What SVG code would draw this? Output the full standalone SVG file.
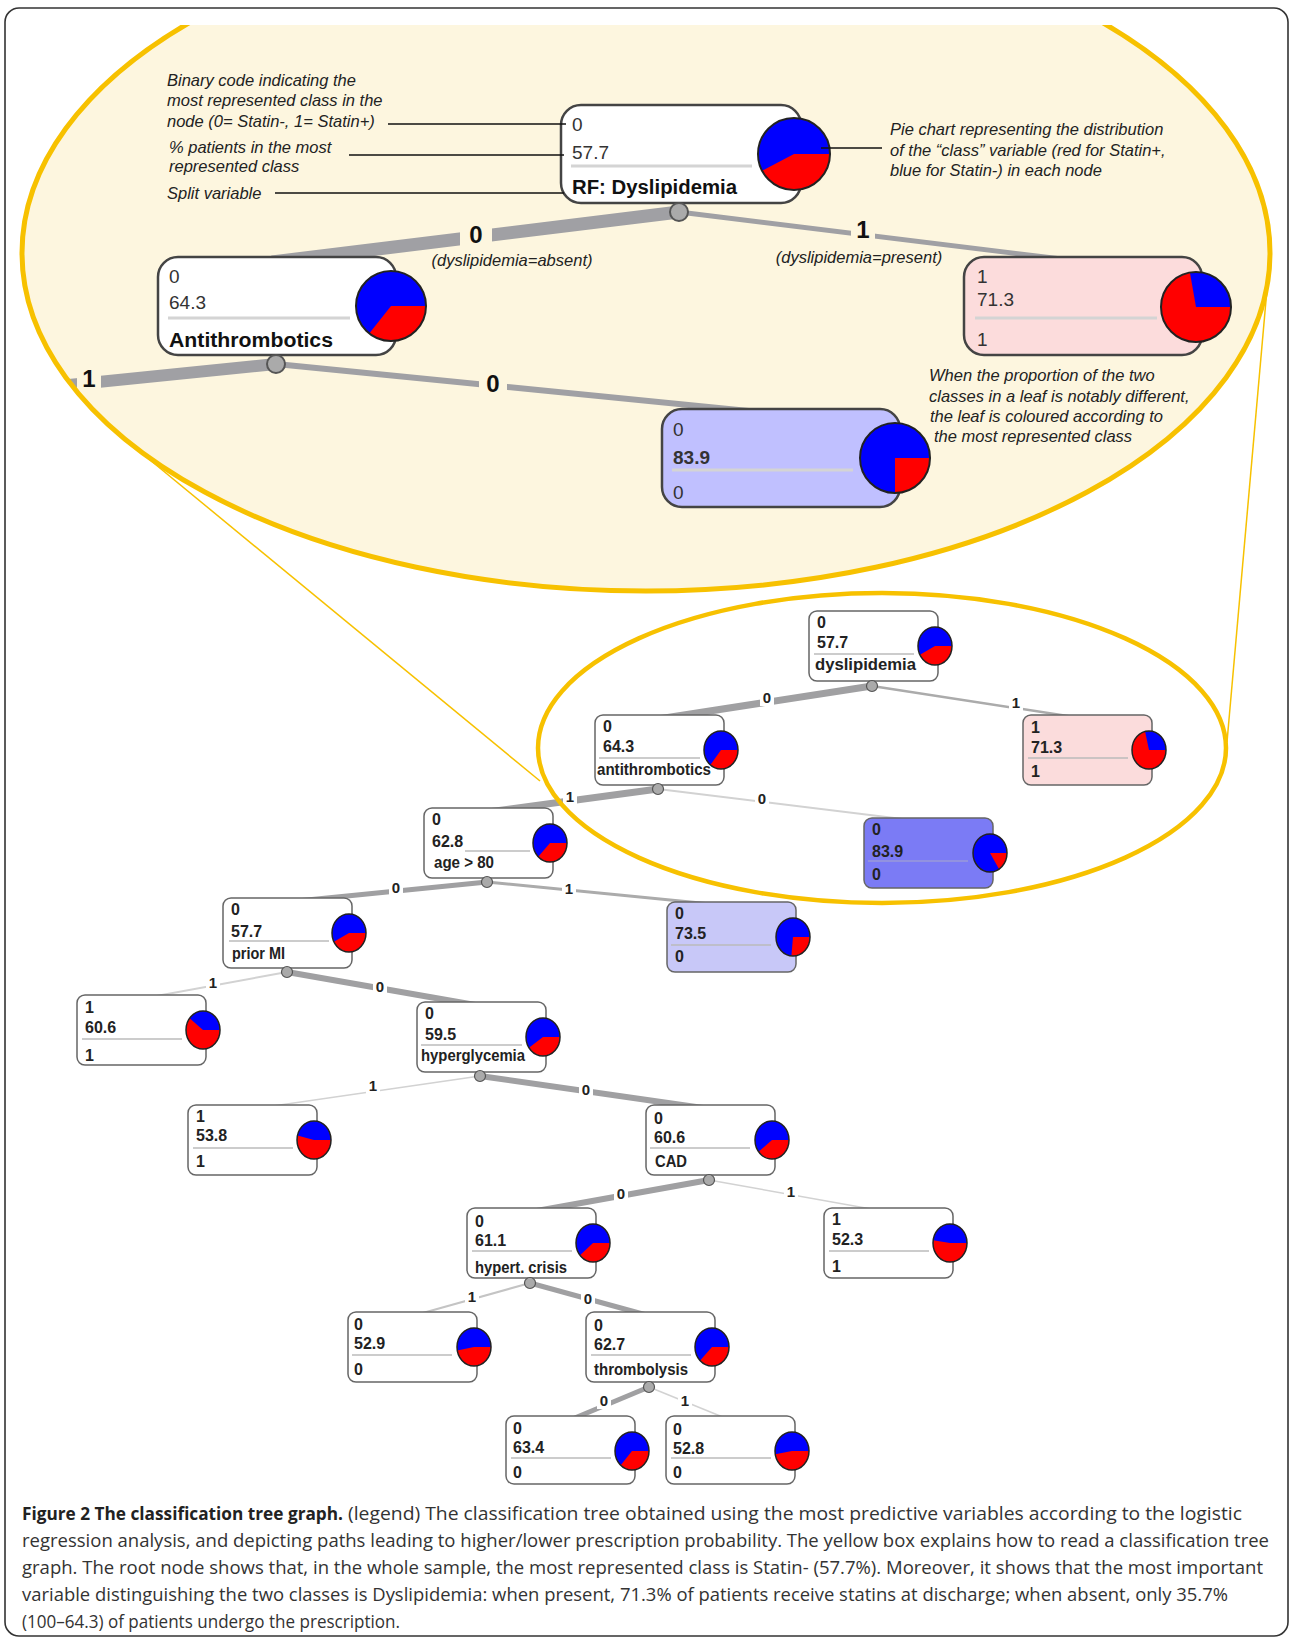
<svg xmlns="http://www.w3.org/2000/svg" width="1292" height="1638" viewBox="0 0 1292 1638">
<defs>
<style>
.frame{fill:#fff;stroke:#333;stroke-width:1.6}
.cnode{stroke:#444;stroke-width:2.5}
.cnum{font-family:"Liberation Sans",Arial,sans-serif;font-size:19px;fill:#333}
.cname{font-family:"Liberation Sans",Arial,sans-serif;font-size:20px;font-weight:bold;fill:#111}
.csep{stroke:#d4d4d4;stroke-width:3}
.ann{font-family:"Liberation Sans",Arial,sans-serif;font-size:16.5px;font-style:italic;fill:#222}
.lead{stroke:#111;stroke-width:1.6}
.cedge{stroke:#a0a0a4;fill:none}
.clab{font-family:"Liberation Sans",Arial,sans-serif;font-size:24px;font-weight:bold;fill:#111;text-anchor:middle}
.red{fill:#f00}
.blue{fill:#00f}
.pieo{fill:none;stroke:#222;stroke-width:1.5}
.cpieo{fill:none;stroke:#222;stroke-width:2}
.node{stroke:#666;stroke-width:1.5}
.t{font-family:"Liberation Sans",Arial,sans-serif;font-size:16px;font-weight:bold;fill:#222}
.sep{stroke:#bbb;stroke-width:1.5}
.dot{fill:#aaa;stroke:#555;stroke-width:1.2}
.cdot{fill:#aaa;stroke:#555;stroke-width:2}
.elab{font-family:"Liberation Sans",Arial,sans-serif;font-size:15px;font-weight:bold;fill:#222;text-anchor:middle}
.cap{font-family:"Open Sans","Liberation Sans",sans-serif;font-size:18.5px;fill:#333}
.capb{font-weight:bold;fill:#222}
.yel{fill:none;stroke:#f7c100}
.thick{stroke:#a0a0a2}
.mid{stroke:#ababab}
.light{stroke:#d2d2d2}
</style>
<clipPath id="topclip"><rect x="0" y="25" width="1292" height="700"/></clipPath>
<clipPath id="ellclip"><ellipse cx="646" cy="253" rx="622" ry="336"/></clipPath>
</defs>

<rect class="frame" x="5" y="8" width="1283" height="1628" rx="14"/>

<!-- ===== Callout (zoomed explanation) ===== -->
<g id="callout">
  <g clip-path="url(#topclip)"><ellipse cx="646" cy="253" rx="624" ry="338" fill="#fdf6df"/></g>
  <g id="callout-connectors" clip-path="url(#topclip)">
    <g clip-path="url(#ellclip)">
      <line class="cedge" x1="679" y1="212" x2="272" y2="262" stroke-width="13"/>
      <line class="cedge" x1="679" y1="212" x2="1086" y2="262" stroke-width="5"/>
      <line class="cedge" x1="276" y1="364" x2="0" y2="392" stroke-width="12"/>
      <line class="cedge" x1="276" y1="364" x2="780" y2="414" stroke-width="6"/>
      <rect x="460" y="218" width="32" height="30" fill="#fdf6df"/>
      <text class="clab" x="476" y="243">0</text>
      <rect x="851" y="213" width="24" height="30" fill="#fdf6df"/>
      <text class="clab" x="863" y="238">1</text>
      <rect x="77" y="361" width="24" height="30" fill="#fdf6df"/>
      <text class="clab" x="89" y="387">1</text>
      <rect x="479" y="367" width="28" height="30" fill="#fdf6df"/>
      <text class="clab" x="493" y="392">0</text>
    </g>
  </g>
  <text class="ann" x="512" y="266" text-anchor="middle">(dyslipidemia=absent)</text>
  <text class="ann" x="859" y="263" text-anchor="middle">(dyslipidemia=present)</text>

  <g id="c-root">
    <rect class="cnode" x="561" y="105" width="240" height="98" rx="20" fill="#fff"/>
    <text class="cnum" x="572" y="131">0</text>
    <text class="cnum" x="572" y="159">57.7</text>
    <line class="csep" x1="571" y1="166" x2="752" y2="166"/>
    <text class="cname" x="572" y="194" textLength="165" lengthAdjust="spacingAndGlyphs">RF: Dyslipidemia</text>
    <circle class="red" cx="794" cy="154" r="36"/>
    <path class="blue" d="M794,154 L830,154 A36,36 0 1 0 762.13,170.73 Z"/>
    <circle class="cpieo" cx="794" cy="154" r="36"/>
  </g>
  <g id="c-anti">
    <rect class="cnode" x="158" y="257" width="238" height="98" rx="20" fill="#fff"/>
    <text class="cnum" x="169" y="283">0</text>
    <text class="cnum" x="169" y="309">64.3</text>
    <line class="csep" x1="168" y1="318" x2="350" y2="318"/>
    <text class="cname" x="169" y="347" textLength="164" lengthAdjust="spacingAndGlyphs">Antithrombotics</text>
    <circle class="red" cx="391" cy="306" r="35"/>
    <path class="blue" d="M391,306 L426,306 A35,35 0 1 0 369.21,333.39 Z"/>
    <circle class="cpieo" cx="391" cy="306" r="35"/>
  </g>
  <g id="c-pink">
    <rect class="cnode" x="964" y="257" width="238" height="98" rx="20" fill="#fcdcdc"/>
    <text class="cnum" x="977" y="283">1</text>
    <text class="cnum" x="977" y="306">71.3</text>
    <line class="csep" x1="975" y1="318" x2="1157" y2="318"/>
    <text class="cnum" x="977" y="346">1</text>
    <circle class="red" cx="1196" cy="307" r="35"/>
    <path class="blue" d="M1196,307 L1231,307 A35,35 0 0 0 1189.92,272.53 Z"/>
    <circle class="cpieo" cx="1196" cy="307" r="35"/>
  </g>
  <g id="c-839">
    <rect class="cnode" x="662" y="409" width="238" height="98" rx="20" fill="#c0c0ff"/>
    <text class="cnum" x="673" y="436">0</text>
    <text class="cnum" x="673" y="464" font-weight="bold" font-size="22" fill="#111">83.9</text>
    <line class="csep" x1="672" y1="470" x2="853" y2="470"/>
    <text class="cnum" x="673" y="499">0</text>
    <circle class="red" cx="895" cy="458" r="35"/>
    <path class="blue" d="M895,458 L930,458 A35,35 0 1 0 895,493 Z"/>
    <circle class="cpieo" cx="895" cy="458" r="35"/>
  </g>
  <circle class="cdot" cx="679" cy="212" r="9"/>
  <circle class="cdot" cx="276" cy="364" r="9"/>

  <g id="annotations">
    <text class="ann" x="167" y="86">Binary code indicating the</text>
    <text class="ann" x="167" y="106">most represented class in the</text>
    <text class="ann" x="167" y="127">node (0= Statin-, 1= Statin+)</text>
    <text class="ann" x="169" y="153">% patients in the most</text>
    <text class="ann" x="169" y="172">represented class</text>
    <text class="ann" x="167" y="199">Split variable</text>
    <line class="lead" x1="388" y1="124" x2="566" y2="124"/>
    <line class="lead" x1="349" y1="155" x2="564" y2="155"/>
    <line class="lead" x1="275" y1="193" x2="564" y2="193"/>
    <line class="lead" x1="821" y1="148" x2="882" y2="148"/>
    <text class="ann" x="890" y="135">Pie chart representing the distribution</text>
    <text class="ann" x="890" y="156">of the “class” variable (red for Statin+,</text>
    <text class="ann" x="890" y="176">blue for Statin-) in each node</text>
    <text class="ann" x="929" y="381">When the proportion of the two</text>
    <text class="ann" x="929" y="402">classes in a leaf is notably different,</text>
    <text class="ann" x="930" y="422">the leaf is coloured according to</text>
    <text class="ann" x="934" y="442">the most represented class</text>
  </g>
  <g clip-path="url(#topclip)"><ellipse class="yel" cx="646" cy="253" rx="624" ry="338" stroke-width="5"/></g>
</g>

<!-- ===== Tree ===== -->
<g id="connectors">
  <line class="thick" x1="872" y1="686" x2="658" y2="719" stroke-width="7"/>
  <line class="mid" x1="872" y1="686" x2="1087" y2="719" stroke-width="2.5"/>
  <line class="thick" x1="658" y1="789" x2="488" y2="812" stroke-width="7"/>
  <line class="light" x1="658" y1="789" x2="927" y2="822" stroke-width="2"/>
  <line class="thick" x1="487" y1="882" x2="287" y2="902" stroke-width="5"/>
  <line class="mid" x1="487" y1="882" x2="731" y2="906" stroke-width="3"/>
  <line class="light" x1="287" y1="972" x2="140" y2="999" stroke-width="2"/>
  <line class="thick" x1="287" y1="972" x2="481" y2="1006" stroke-width="6"/>
  <line class="light" x1="480" y1="1076" x2="252" y2="1109" stroke-width="1.5"/>
  <line class="thick" x1="480" y1="1076" x2="710" y2="1109" stroke-width="6"/>
  <line class="thick" x1="709" y1="1180" x2="531" y2="1212" stroke-width="6"/>
  <line class="light" x1="709" y1="1180" x2="888" y2="1212" stroke-width="1.5"/>
  <line class="mid" x1="530" y1="1283" x2="412" y2="1316" stroke-width="2" style="stroke:#c4c4c4"/>
  <line class="thick" x1="530" y1="1283" x2="650" y2="1316" stroke-width="5"/>
  <line class="thick" x1="649" y1="1387" x2="570" y2="1420" stroke-width="5"/>
  <line class="light" x1="649" y1="1387" x2="730" y2="1420" stroke-width="1.5"/>
  <g id="edge-labels">
    <rect x="760" y="689" width="14" height="17" fill="#fff"/><text class="elab" x="767" y="703">0</text>
    <rect x="1009" y="694" width="14" height="17" fill="#fff"/><text class="elab" x="1016" y="708">1</text>
    <rect x="563" y="788" width="14" height="17" fill="#fff"/><text class="elab" x="570" y="802">1</text>
    <rect x="755" y="790" width="14" height="17" fill="#fff"/><text class="elab" x="762" y="804">0</text>
    <rect x="389" y="879" width="14" height="17" fill="#fff"/><text class="elab" x="396" y="893">0</text>
    <rect x="562" y="880" width="14" height="17" fill="#fff"/><text class="elab" x="569" y="894">1</text>
    <rect x="206" y="974" width="14" height="17" fill="#fff"/><text class="elab" x="213" y="988">1</text>
    <rect x="373" y="978" width="14" height="17" fill="#fff"/><text class="elab" x="380" y="992">0</text>
    <rect x="366" y="1077" width="14" height="17" fill="#fff"/><text class="elab" x="373" y="1091">1</text>
    <rect x="579" y="1081" width="14" height="17" fill="#fff"/><text class="elab" x="586" y="1095">0</text>
    <rect x="614" y="1185" width="14" height="17" fill="#fff"/><text class="elab" x="621" y="1199">0</text>
    <rect x="784" y="1183" width="14" height="17" fill="#fff"/><text class="elab" x="791" y="1197">1</text>
    <rect x="465" y="1288" width="14" height="17" fill="#fff"/><text class="elab" x="472" y="1302">1</text>
    <rect x="581" y="1290" width="14" height="17" fill="#fff"/><text class="elab" x="588" y="1304">0</text>
    <rect x="597" y="1392" width="14" height="17" fill="#fff"/><text class="elab" x="604" y="1406">0</text>
    <rect x="678" y="1392" width="14" height="17" fill="#fff"/><text class="elab" x="685" y="1406">1</text>
  </g>
</g>

<g id="n-dys">
  <rect class="node" x="809" y="611" width="129" height="70" rx="8" fill="#fff"/>
  <text class="t" x="817" y="628">0</text><text class="t" x="817" y="648">57.7</text>
  <line class="sep" x1="814" y1="654" x2="914" y2="654"/>
  <text class="t" x="815" y="670" textLength="101" lengthAdjust="spacingAndGlyphs">dyslipidemia</text>
  <ellipse class="red" cx="935" cy="646" rx="17" ry="19"/>
  <path class="blue" d="M935,646 L952,646 A17,19 0 1 0 919.95,654.83 Z"/>
  <ellipse class="pieo" cx="935" cy="646" rx="17" ry="19"/>
</g>
<g id="n-anti">
  <rect class="node" x="595" y="715" width="129" height="70" rx="8" fill="#fff"/>
  <text class="t" x="603" y="732">0</text><text class="t" x="603" y="752">64.3</text>
  <line class="sep" x1="599" y1="758" x2="700" y2="758"/>
  <text class="t" x="597" y="775" textLength="114" lengthAdjust="spacingAndGlyphs">antithrombotics</text>
  <ellipse class="red" cx="721" cy="750" rx="17" ry="19"/>
  <path class="blue" d="M721,750 L738,750 A17,19 0 1 0 710.42,764.87 Z"/>
  <ellipse class="pieo" cx="721" cy="750" rx="17" ry="19"/>
</g>
<g id="n-713">
  <rect class="node" x="1023" y="715" width="129" height="70" rx="8" fill="#fbdcdc"/>
  <text class="t" x="1031" y="733">1</text><text class="t" x="1031" y="753">71.3</text>
  <line class="sep" x1="1028" y1="758" x2="1128" y2="758"/>
  <text class="t" x="1031" y="777">1</text>
  <ellipse class="red" cx="1149" cy="750" rx="17" ry="19"/>
  <path class="blue" d="M1149,750 L1166,750 A17,19 0 0 0 1145.09,731.51 Z"/>
  <ellipse class="pieo" cx="1149" cy="750" rx="17" ry="19"/>
</g>
<g id="n-839">
  <rect class="node" x="864" y="818" width="129" height="70" rx="8" fill="#7b7bf5"/>
  <text class="t" x="872" y="835">0</text><text class="t" x="872" y="857">83.9</text>
  <line class="sep" x1="868" y1="861" x2="968" y2="861" style="stroke:#9a9ad8"/>
  <text class="t" x="872" y="880">0</text>
  <ellipse class="red" cx="990" cy="853" rx="17" ry="19"/>
  <path class="blue" d="M990,853 L1007,853 A17,19 0 1 0 999.01,869.11 Z"/>
  <ellipse class="pieo" cx="990" cy="853" rx="17" ry="19"/>
</g>
<g id="n-age">
  <rect class="node" x="424" y="808" width="129" height="70" rx="8" fill="#fff"/>
  <text class="t" x="432" y="825">0</text><text class="t" x="432" y="847">62.8</text>
  <line class="sep" x1="465" y1="851" x2="530" y2="851"/>
  <text class="t" x="434" y="868" textLength="60" lengthAdjust="spacingAndGlyphs">age &gt; 80</text>
  <ellipse class="red" cx="550" cy="843" rx="17" ry="19"/>
  <path class="blue" d="M550,843 L567,843 A17,19 0 1 0 538.21,856.69 Z"/>
  <ellipse class="pieo" cx="550" cy="843" rx="17" ry="19"/>
</g>
<g id="n-prior">
  <rect class="node" x="223" y="898" width="129" height="70" rx="8" fill="#fff"/>
  <text class="t" x="231" y="915">0</text><text class="t" x="231" y="937">57.7</text>
  <line class="sep" x1="229" y1="941" x2="329" y2="941"/>
  <text class="t" x="232" y="959" textLength="53" lengthAdjust="spacingAndGlyphs">prior MI</text>
  <ellipse class="red" cx="349" cy="933" rx="17" ry="19"/>
  <path class="blue" d="M349,933 L366,933 A17,19 0 1 0 333.95,941.83 Z"/>
  <ellipse class="pieo" cx="349" cy="933" rx="17" ry="19"/>
</g>
<g id="n-735">
  <rect class="node" x="667" y="902" width="129" height="70" rx="8" fill="#c8c8f8"/>
  <text class="t" x="675" y="919">0</text><text class="t" x="675" y="939">73.5</text>
  <line class="sep" x1="671" y1="945" x2="771" y2="945"/>
  <text class="t" x="675" y="962">0</text>
  <ellipse class="red" cx="793" cy="937" rx="17" ry="19"/>
  <path class="blue" d="M793,937 L810,937 A17,19 0 1 0 791.4,955.92 Z"/>
  <ellipse class="pieo" cx="793" cy="937" rx="17" ry="19"/>
</g>
<g id="n-606">
  <rect class="node" x="77" y="995" width="129" height="70" rx="8" fill="#fff"/>
  <text class="t" x="85" y="1013">1</text><text class="t" x="85" y="1033">60.6</text>
  <line class="sep" x1="82" y1="1039" x2="182" y2="1039"/>
  <text class="t" x="85" y="1061">1</text>
  <ellipse class="red" cx="203" cy="1030" rx="17" ry="19"/>
  <path class="blue" d="M203,1030 L220,1030 A17,19 0 0 0 189.64,1018.25 Z"/>
  <ellipse class="pieo" cx="203" cy="1030" rx="17" ry="19"/>
</g>
<g id="n-hyper">
  <rect class="node" x="417" y="1002" width="129" height="70" rx="8" fill="#fff"/>
  <text class="t" x="425" y="1019">0</text><text class="t" x="425" y="1040">59.5</text>
  <line class="sep" x1="421" y1="1045" x2="522" y2="1045"/>
  <text class="t" x="421" y="1061" textLength="104" lengthAdjust="spacingAndGlyphs">hyperglycemia</text>
  <ellipse class="red" cx="543" cy="1037" rx="17" ry="19"/>
  <path class="blue" d="M543,1037 L560,1037 A17,19 0 1 0 528.94,1047.68 Z"/>
  <ellipse class="pieo" cx="543" cy="1037" rx="17" ry="19"/>
</g>
<g id="n-538">
  <rect class="node" x="188" y="1105" width="129" height="70" rx="8" fill="#fff"/>
  <text class="t" x="196" y="1122">1</text><text class="t" x="196" y="1141">53.8</text>
  <line class="sep" x1="193" y1="1148" x2="293" y2="1148"/>
  <text class="t" x="196" y="1167">1</text>
  <ellipse class="red" cx="314" cy="1140" rx="17" ry="19"/>
  <path class="blue" d="M314,1140 L331,1140 A17,19 0 0 0 297.48,1135.5 Z"/>
  <ellipse class="pieo" cx="314" cy="1140" rx="17" ry="19"/>
</g>
<g id="n-cad">
  <rect class="node" x="646" y="1105" width="129" height="70" rx="8" fill="#fff"/>
  <text class="t" x="654" y="1124">0</text><text class="t" x="654" y="1143">60.6</text>
  <line class="sep" x1="650" y1="1148" x2="750" y2="1148"/>
  <text class="t" x="655" y="1167" textLength="32" lengthAdjust="spacingAndGlyphs">CAD</text>
  <ellipse class="red" cx="772" cy="1140" rx="17" ry="19"/>
  <path class="blue" d="M772,1140 L789,1140 A17,19 0 1 0 758.65,1151.75 Z"/>
  <ellipse class="pieo" cx="772" cy="1140" rx="17" ry="19"/>
</g>
<g id="n-hypert">
  <rect class="node" x="467" y="1208" width="129" height="70" rx="8" fill="#fff"/>
  <text class="t" x="475" y="1227">0</text><text class="t" x="475" y="1246">61.1</text>
  <line class="sep" x1="472" y1="1251" x2="572" y2="1251"/>
  <text class="t" x="475" y="1273" textLength="92" lengthAdjust="spacingAndGlyphs">hypert. crisis</text>
  <ellipse class="red" cx="593" cy="1243" rx="17" ry="19"/>
  <path class="blue" d="M593,1243 L610,1243 A17,19 0 1 0 579.98,1255.21 Z"/>
  <ellipse class="pieo" cx="593" cy="1243" rx="17" ry="19"/>
</g>
<g id="n-523">
  <rect class="node" x="824" y="1208" width="129" height="70" rx="8" fill="#fff"/>
  <text class="t" x="832" y="1225">1</text><text class="t" x="832" y="1245">52.3</text>
  <line class="sep" x1="829" y1="1251" x2="929" y2="1251"/>
  <text class="t" x="832" y="1272">1</text>
  <ellipse class="red" cx="950" cy="1243" rx="17" ry="19"/>
  <path class="blue" d="M950,1243 L967,1243 A17,19 0 0 0 933.18,1240.26 Z"/>
  <ellipse class="pieo" cx="950" cy="1243" rx="17" ry="19"/>
</g>
<g id="n-529">
  <rect class="node" x="348" y="1312" width="129" height="70" rx="8" fill="#fff"/>
  <text class="t" x="354" y="1330">0</text><text class="t" x="354" y="1349">52.9</text>
  <line class="sep" x1="352" y1="1355" x2="452" y2="1355"/>
  <text class="t" x="354" y="1375">0</text>
  <ellipse class="red" cx="474" cy="1347" rx="17" ry="19"/>
  <path class="blue" d="M474,1347 L491,1347 A17,19 0 1 0 457.28,1350.43 Z"/>
  <ellipse class="pieo" cx="474" cy="1347" rx="17" ry="19"/>
</g>
<g id="n-thromb">
  <rect class="node" x="586" y="1312" width="129" height="70" rx="8" fill="#fff"/>
  <text class="t" x="594" y="1331">0</text><text class="t" x="594" y="1350">62.7</text>
  <line class="sep" x1="591" y1="1355" x2="691" y2="1355"/>
  <text class="t" x="594" y="1375" textLength="94" lengthAdjust="spacingAndGlyphs">thrombolysis</text>
  <ellipse class="red" cx="712" cy="1347" rx="17" ry="19"/>
  <path class="blue" d="M712,1347 L729,1347 A17,19 0 1 0 700.13,1360.6 Z"/>
  <ellipse class="pieo" cx="712" cy="1347" rx="17" ry="19"/>
</g>
<g id="n-634">
  <rect class="node" x="506" y="1416" width="129" height="68" rx="8" fill="#fff"/>
  <text class="t" x="513" y="1434">0</text><text class="t" x="513" y="1453">63.4</text>
  <line class="sep" x1="511" y1="1458" x2="611" y2="1458"/>
  <text class="t" x="513" y="1478">0</text>
  <ellipse class="red" cx="632" cy="1451" rx="17" ry="19"/>
  <path class="blue" d="M632,1451 L649,1451 A17,19 0 1 0 620.67,1465.16 Z"/>
  <ellipse class="pieo" cx="632" cy="1451" rx="17" ry="19"/>
</g>
<g id="n-528">
  <rect class="node" x="666" y="1416" width="129" height="68" rx="8" fill="#fff"/>
  <text class="t" x="673" y="1435">0</text><text class="t" x="673" y="1454">52.8</text>
  <line class="sep" x1="671" y1="1458" x2="771" y2="1458"/>
  <text class="t" x="673" y="1478">0</text>
  <ellipse class="red" cx="792" cy="1451" rx="17" ry="19"/>
  <path class="blue" d="M792,1451 L809,1451 A17,19 0 1 0 775.26,1454.33 Z"/>
  <ellipse class="pieo" cx="792" cy="1451" rx="17" ry="19"/>
</g>
<g id="dots">
  <circle class="dot" cx="872" cy="686" r="5.5"/>
  <circle class="dot" cx="658" cy="789" r="5.5"/>
  <circle class="dot" cx="487" cy="882" r="5.5"/>
  <circle class="dot" cx="287" cy="972" r="5.5"/>
  <circle class="dot" cx="480" cy="1076" r="5.5"/>
  <circle class="dot" cx="709" cy="1180" r="5.5"/>
  <circle class="dot" cx="530" cy="1283" r="5.5"/>
  <circle class="dot" cx="649" cy="1387" r="5.5"/>
</g>

<g id="zoom-marker">
  <line x1="144" y1="455" x2="540" y2="781" stroke="#f7c100" stroke-width="1.5"/>
  <line x1="1270" y1="255" x2="1227" y2="742" stroke="#f7c100" stroke-width="1.5"/>
  <ellipse class="yel" cx="882" cy="748" rx="344" ry="155" stroke-width="4.5"/>
</g>

<g id="caption">
  <text class="cap capb" x="22" y="1520" textLength="321" lengthAdjust="spacingAndGlyphs">Figure 2 The classification tree graph.</text>
  <text class="cap" x="348" y="1520" textLength="894" lengthAdjust="spacingAndGlyphs">(legend) The classification tree obtained using the most predictive variables according to the logistic</text>
  <text class="cap" x="22" y="1547" textLength="1247" lengthAdjust="spacingAndGlyphs">regression analysis, and depicting paths leading to higher/lower prescription probability. The yellow box explains how to read a classification tree</text>
  <text class="cap" x="22" y="1574" textLength="1241" lengthAdjust="spacingAndGlyphs">graph. The root node shows that, in the whole sample, the most represented class is Statin- (57.7%). Moreover, it shows that the most important</text>
  <text class="cap" x="22" y="1601" textLength="1206" lengthAdjust="spacingAndGlyphs">variable distinguishing the two classes is Dyslipidemia: when present, 71.3% of patients receive statins at discharge; when absent, only 35.7%</text>
  <text class="cap" x="22" y="1628" textLength="378" lengthAdjust="spacingAndGlyphs">(100–64.3) of patients undergo the prescription.</text>
</g>
</svg>
